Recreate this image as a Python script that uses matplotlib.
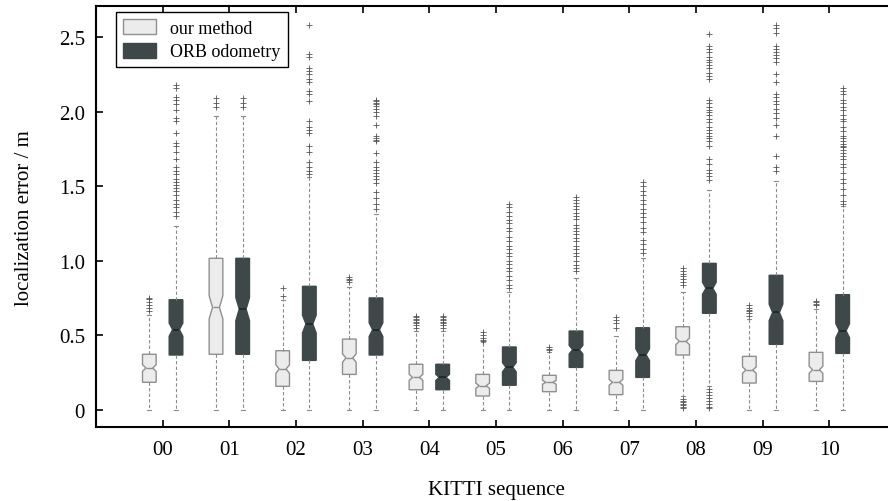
import numpy as np
import matplotlib
matplotlib.use('Agg')
import matplotlib.pyplot as plt
from matplotlib.patches import Patch

plt.rcParams['font.family'] = ['Liberation Serif', 'DejaVu Serif']

# ---------------- data ----------------
sequences = ['00', '01', '02', '03', '04', '05', '06', '07', '08', '09', '10']

# our method
our_q1 = [0.184, 0.372, 0.157, 0.237, 0.134, 0.092, 0.121, 0.101, 0.367, 0.179, 0.190]
our_med = [0.280, 0.687, 0.273, 0.347, 0.217, 0.161, 0.184, 0.184, 0.459, 0.266, 0.268]
our_q3 = [0.372, 1.016, 0.396, 0.474, 0.305, 0.237, 0.231, 0.264, 0.557, 0.358, 0.385]
our_lo = [0.0, 0.0, 0.0, 0.0, 0.0, 0.0, 0.0, 0.0, 0.09, 0.0, 0.0]
our_hi = [0.636, 1.969, 0.734, 0.823, 0.528, 0.452, 0.385, 0.493, 0.788, 0.608, 0.676]
our_fliers = [
    [0.66, 0.68, 0.70, 0.72, 0.74, 0.75],
    [2.03, 2.06, 2.09],
    [0.76, 0.82],
    [0.86, 0.87, 0.88, 0.89],
    [0.55, 0.57, 0.58, 0.59, 0.60, 0.61, 0.62, 0.63],
    [0.46, 0.47, 0.48, 0.50, 0.52],
    [0.40, 0.41, 0.42],
    [0.55, 0.58, 0.60, 0.62],
    [0.84, 0.86, 0.88, 0.90, 0.91, 0.93, 0.95,
     0.01, 0.02, 0.03, 0.04, 0.05, 0.06, 0.07],
    [0.63, 0.65, 0.66, 0.67, 0.68, 0.70],
    [0.70, 0.71, 0.72, 0.73],
]

# ORB odometry
orb_q1 = [0.367, 0.372, 0.331, 0.367, 0.134, 0.164, 0.284, 0.217, 0.647, 0.439, 0.378]
orb_med = [0.537, 0.675, 0.575, 0.537, 0.217, 0.285, 0.403, 0.369, 0.815, 0.653, 0.530]
orb_q3 = [0.738, 1.016, 0.828, 0.750, 0.305, 0.421, 0.528, 0.550, 0.982, 0.902, 0.772]
orb_lo = [0.0, 0.0, 0.0, 0.0, 0.0, 0.0, 0.0, 0.0, 0.161, 0.0, 0.0]
orb_hi = [1.235, 1.969, 1.56, 1.316, 0.528, 0.79, 0.886, 1.02, 1.475, 1.537, 1.365]
orb_fliers = [
    [2.18, 2.16, 2.10, 2.08, 2.05, 2.01, 1.96, 1.94, 1.86, 1.79, 1.77, 1.73, 1.68,
     1.63, 1.60, 1.58, 1.55, 1.53, 1.51, 1.49, 1.47, 1.44, 1.41, 1.38, 1.36, 1.33, 1.30],
    [2.03, 2.06, 2.09],
    [2.58, 2.39, 2.37, 2.29, 2.27, 2.25, 2.22, 2.20, 2.14, 2.12, 2.07, 1.94, 1.90,
     1.88, 1.86, 1.77, 1.73, 1.66, 1.63, 1.60, 1.58],
    [2.08, 2.07, 2.06, 2.05, 2.04, 2.02, 2.00, 1.97, 1.91, 1.84, 1.82, 1.81, 1.80,
     1.72, 1.66, 1.63, 1.61, 1.59, 1.57, 1.55, 1.52, 1.46, 1.42, 1.38, 1.35],
    [0.55, 0.57, 0.58, 0.59, 0.60, 0.61, 0.62, 0.63],
    [1.38, 1.36, 1.33, 1.30, 1.27, 1.25, 1.22, 1.20, 1.16, 1.13, 1.10, 1.08, 1.05,
     1.03, 1.00, 0.98, 0.95, 0.93, 0.90, 0.87, 0.84, 0.82],
    [1.43, 1.41, 1.39, 1.37, 1.35, 1.32, 1.30, 1.28, 1.24, 1.22, 1.20, 1.18, 1.15,
     1.13, 1.10, 1.08, 1.05, 1.03, 1.00, 0.97, 0.95, 0.93],
    [1.53, 1.50, 1.47, 1.44, 1.41, 1.38, 1.35, 1.32, 1.29, 1.26, 1.22, 1.19, 1.14,
     1.11, 1.08, 1.05],
    [2.52, 2.44, 2.42, 2.40, 2.37, 2.35, 2.33, 2.31, 2.29, 2.26, 2.24, 2.22, 2.08,
     2.06, 2.03, 2.01, 2.00, 1.98, 1.95, 1.93, 1.90, 1.88, 1.86, 1.84, 1.82, 1.80,
     1.77, 1.68, 1.65, 1.61, 1.59, 1.57, 1.54,
     0.14, 0.12, 0.10, 0.08, 0.06, 0.04, 0.02, 0.01],
    [2.58, 2.56, 2.53, 2.44, 2.42, 2.40, 2.38, 2.36, 2.33, 2.25, 2.20, 2.12, 2.10,
     2.07, 2.05, 2.02, 1.99, 1.96, 1.91, 1.84, 1.70, 1.63, 1.60],
    [2.16, 2.14, 2.12, 2.08, 2.06, 2.03, 2.01, 1.98, 1.95, 1.94, 1.90, 1.87, 1.84,
     1.82, 1.80, 1.78, 1.77, 1.76, 1.74, 1.72, 1.70, 1.68, 1.65, 1.63, 1.59, 1.55,
     1.52, 1.48, 1.44, 1.40, 1.38],
]


def make_stats(q1, med, q3, lo, hi, fliers):
    stats = []
    for a, m, b, l, h, f in zip(q1, med, q3, lo, hi, fliers):
        notch = 0.12 * (b - a)
        stats.append(dict(q1=a, med=m, q3=b, whislo=l, whishi=h,
                          fliers=np.array(f), cilo=m - notch, cihi=m + notch))
    return stats


fig = plt.figure(figsize=(8.88, 5.02), dpi=100)
ax = fig.add_axes([96 / 888, 1 - 428.3 / 502, 800 / 888, 421 / 502])

pos = np.arange(1, len(sequences) + 1)
whisk = dict(color='#8c8c8c', linestyle=(0, (3, 2)), linewidth=0.8)
cap = dict(color='#8c8c8c', linewidth=0.8)
flier = dict(marker='+', markersize=4, markeredgewidth=0.6,
             markeredgecolor='#555555', linestyle='none')

ax.bxp(make_stats(our_q1, our_med, our_q3, our_lo, our_hi, our_fliers),
       positions=pos - 0.2, widths=0.205, capwidths=0.06, shownotches=True,
       patch_artist=True,
       boxprops=dict(facecolor='#ebeceb', edgecolor='#8f8f8f', linewidth=1.0),
       medianprops=dict(color='#8f8f8f', linewidth=1.0),
       whiskerprops=whisk, capprops=cap, flierprops=flier)

ax.bxp(make_stats(orb_q1, orb_med, orb_q3, orb_lo, orb_hi, orb_fliers),
       positions=pos + 0.2, widths=0.205, capwidths=0.06, shownotches=True,
       patch_artist=True,
       boxprops=dict(facecolor='#3f4849', edgecolor='#3f4849', linewidth=1.0),
       medianprops=dict(color='#1e2424', linewidth=1.2),
       whiskerprops=whisk, capprops=cap, flierprops=flier)

ax.set_xlim(0, 12)
ax.set_ylim(-0.118, 2.707)
ax.set_xticks(pos)
ax.set_xticklabels(sequences)
ax.set_yticks([0, 0.5, 1.0, 1.5, 2.0, 2.5])
ax.set_yticklabels(['0', '0.5', '1.0', '1.5', '2.0', '2.5'])
ax.tick_params(direction='in', length=5, width=1.2, labelsize=15, top=True,
               right=False)
ax.tick_params(axis='x', pad=9)
ax.tick_params(axis='y', pad=8)

for s in ax.spines.values():
    s.set_linewidth(1.5)

ax.set_xlabel('KITTI sequence', fontsize=15, labelpad=15)
ax.set_ylabel('localization error / m', fontsize=15, labelpad=18)

handles = [Patch(facecolor='#ebeceb', edgecolor='#8f8f8f', label='our method'),
           Patch(facecolor='#3f4849', edgecolor='#3f4849', label='ORB odometry')]
leg = ax.legend(handles=handles, loc='upper left', bbox_to_anchor=(0.025, 0.986),
                fontsize=13, fancybox=False, framealpha=1, edgecolor='black',
                borderpad=0.4, handlelength=1.8, handleheight=0.9,
                labelspacing=0.3, handletextpad=0.8, borderaxespad=0)
leg.get_frame().set_linewidth(1.0)

fig.savefig('out.png', dpi=100)
